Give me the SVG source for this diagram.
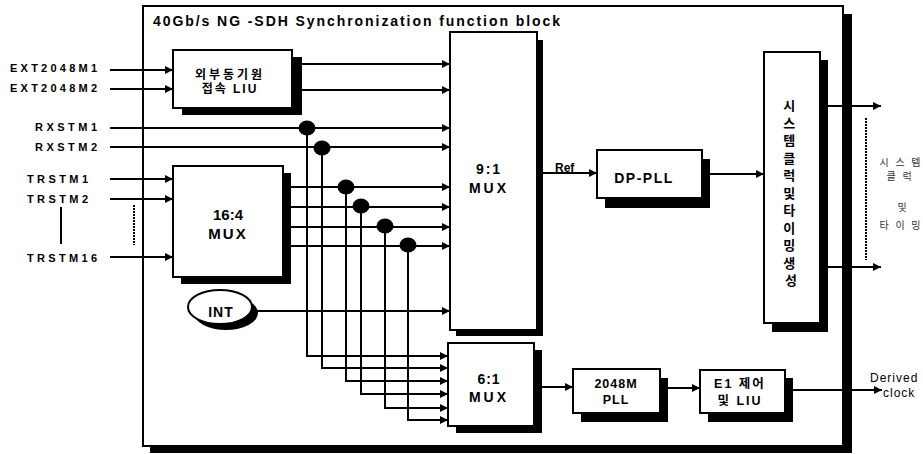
<svg xmlns="http://www.w3.org/2000/svg" width="923" height="454" viewBox="0 0 923 454">
<style>
.box{fill:#fff;stroke:#000;stroke-width:2}
.sh{fill:#000}
.ln{fill:none;stroke:#000;stroke-width:2}
.t{font-family:"Liberation Sans","Noto Sans CJK KR",sans-serif;font-weight:bold;fill:#000}
.lab{font-family:"Liberation Sans","Noto Sans CJK KR",sans-serif;font-weight:bold;font-size:11px;fill:#000}
.k{font-family:"Liberation Sans","Noto Sans CJK KR",sans-serif;font-size:10px;fill:#333}
.n{font-family:"Liberation Sans",sans-serif;font-size:12px;fill:#000;letter-spacing:1px}
</style>
<defs>
<marker id="ah" viewBox="0 0 10 10" refX="10" refY="5" markerWidth="9" markerHeight="8" markerUnits="userSpaceOnUse" orient="auto"><path d="M0,0 L10,5 L0,10 z" fill="#000"/></marker>
</defs>
<rect width="923" height="454" fill="#fff"/>

<g id="outer">
<rect class="sh" x="150" y="14" width="702" height="439"/>
<rect class="box" x="143" y="6" width="700" height="440"/>
<text class="t" x="153" y="26" font-size="14" textLength="407" lengthAdjust="spacing">40Gb/s NG -SDH Synchronization function block</text>
</g>

<g id="inputs">
<text class="lab" x="10" y="72" textLength="87" lengthAdjust="spacing">EXT2048M1</text>
<text class="lab" x="10" y="92" textLength="87" lengthAdjust="spacing">EXT2048M2</text>
<text class="lab" x="35" y="131" textLength="62" lengthAdjust="spacing">RXSTM1</text>
<text class="lab" x="35" y="151" textLength="62" lengthAdjust="spacing">RXSTM2</text>
<text class="lab" x="27" y="183" textLength="61" lengthAdjust="spacing">TRSTM1</text>
<text class="lab" x="27" y="203" textLength="61" lengthAdjust="spacing">TRSTM2</text>
<text class="lab" x="27" y="262" textLength="70" lengthAdjust="spacing">TRSTM16</text>
<line class="ln" x1="61" y1="207" x2="61" y2="244" stroke-width="1.5"/>
<line class="ln" x1="134" y1="205" x2="134" y2="245" stroke-dasharray="2 1"/>
</g>

<g id="connectors">
<path class="ln" marker-end="url(#ah)" d="M110,70 H173"/>
<path class="ln" marker-end="url(#ah)" d="M110,89 H173"/>
<path class="ln" marker-end="url(#ah)" d="M110,128 H450"/>
<path class="ln" marker-end="url(#ah)" d="M110,147 H450"/>
<path class="ln" marker-end="url(#ah)" d="M110,179 H173"/>
<path class="ln" marker-end="url(#ah)" d="M110,199 H173"/>
<path class="ln" marker-end="url(#ah)" d="M110,257 H173"/>
<path class="ln" marker-end="url(#ah)" d="M295,64 H450"/>
<path class="ln" marker-end="url(#ah)" d="M295,90 H450"/>
<path class="ln" marker-end="url(#ah)" d="M285,187 H450"/>
<path class="ln" marker-end="url(#ah)" d="M285,207 H450"/>
<path class="ln" marker-end="url(#ah)" d="M285,227 H450"/>
<path class="ln" marker-end="url(#ah)" d="M285,246 H450"/>
<path class="ln" marker-end="url(#ah)" d="M255,311 H450"/>
<path class="ln" marker-end="url(#ah)" d="M307,128 V356 H448"/>
<path class="ln" marker-end="url(#ah)" d="M322,148 V368 H448"/>
<path class="ln" marker-end="url(#ah)" d="M346,187 V381 H448"/>
<path class="ln" marker-end="url(#ah)" d="M361,206 V394 H448"/>
<path class="ln" marker-end="url(#ah)" d="M385,226 V408 H448"/>
<path class="ln" marker-end="url(#ah)" d="M408,245 V420 H448"/>
<ellipse cx="307" cy="128" rx="8.5" ry="7.5" fill="#000"/>
<ellipse cx="322" cy="148" rx="8.5" ry="7.5" fill="#000"/>
<ellipse cx="346" cy="187" rx="8.5" ry="7.5" fill="#000"/>
<ellipse cx="361" cy="206" rx="8.5" ry="7.5" fill="#000"/>
<ellipse cx="385" cy="226" rx="8.5" ry="7.5" fill="#000"/>
<ellipse cx="408" cy="245" rx="8.5" ry="7.5" fill="#000"/>
<path class="ln" marker-end="url(#ah)" d="M543,173 H597"/>
<text class="t" x="555" y="172" font-size="12">Ref</text>
<path class="ln" marker-end="url(#ah)" d="M710,174 H764"/>
<path class="ln" marker-end="url(#ah)" d="M826,106 H881"/>
<path class="ln" marker-end="url(#ah)" d="M826,267 H881"/>
<path class="ln" marker-end="url(#ah)" d="M540,387 H573"/>
<path class="ln" marker-end="url(#ah)" d="M666,388 H700"/>
<path class="ln" marker-end="url(#ah)" d="M791,390 H882"/>
<line class="ln" x1="866" y1="118" x2="866" y2="260" stroke-dasharray="2 1"/>
</g>

<g id="liu">
<rect class="sh" x="182" y="57" width="120" height="58"/>
<rect class="box" x="173" y="50" width="119" height="58"/>
<text class="t" x="230" y="79" font-size="12" text-anchor="middle" letter-spacing="3">외부동기원</text>
<text class="t" x="230" y="93" font-size="12" text-anchor="middle" letter-spacing="2">접속 LIU</text>
</g>

<g id="mux16">
<rect class="sh" x="181" y="173" width="110" height="111"/>
<rect class="box" x="173" y="166" width="110" height="111"/>
<text class="t" x="228" y="220" font-size="15" text-anchor="middle">16:4</text>
<text class="t" x="228" y="239" font-size="15" text-anchor="middle" letter-spacing="2">MUX</text>
</g>

<g id="int">
<ellipse cx="226" cy="313" rx="32" ry="17" fill="#000"/>
<ellipse cx="220" cy="307" rx="32" ry="17" class="box"/>
<text class="t" x="221" y="317" font-size="14" text-anchor="middle" letter-spacing="1">INT</text>
</g>

<g id="mux9">
<rect class="sh" x="456" y="40" width="87" height="296"/>
<rect class="box" x="450" y="32" width="87" height="298"/>
<text class="t" x="489" y="174" font-size="14" text-anchor="middle" letter-spacing="2">9:1</text>
<text class="t" x="489" y="193" font-size="14" text-anchor="middle" letter-spacing="3">MUX</text>
</g>

<g id="mux6">
<rect class="sh" x="456" y="350" width="86" height="83"/>
<rect class="box" x="448" y="343" width="86" height="83"/>
<text class="t" x="489" y="384" font-size="14" text-anchor="middle" letter-spacing="1">6:1</text>
<text class="t" x="489" y="402" font-size="14" text-anchor="middle" letter-spacing="3">MUX</text>
</g>

<g id="dppll">
<rect class="sh" x="605" y="159" width="105" height="49"/>
<rect class="box" x="597" y="150" width="105" height="48"/>
<text class="t" x="644" y="183" font-size="14" text-anchor="middle" letter-spacing="1.5">DP-PLL</text>
</g>

<g id="pll2048">
<rect class="sh" x="581" y="378" width="87" height="44"/>
<rect class="box" x="573" y="369" width="87" height="44"/>
<text class="t" x="616" y="388" font-size="12.5" text-anchor="middle" letter-spacing="1">2048M</text>
<text class="t" x="616" y="404" font-size="12.5" text-anchor="middle" letter-spacing="1">PLL</text>
</g>

<g id="e1">
<rect class="sh" x="708" y="378" width="85" height="44"/>
<rect class="box" x="700" y="370" width="85" height="43"/>
<text class="t" x="740" y="388" font-size="12.5" text-anchor="middle" letter-spacing="2">E1 제어</text>
<text class="t" x="740" y="405" font-size="12.5" text-anchor="middle" letter-spacing="2">및 LIU</text>
</g>

<g id="sysclk">
<rect class="sh" x="772" y="60" width="56" height="272"/>
<rect class="box" x="764" y="52" width="56" height="271"/>
<text class="t" font-size="13" text-anchor="middle">
<tspan x="791" y="110">시</tspan>
<tspan x="791" y="127.5">스</tspan>
<tspan x="791" y="145">템</tspan>
<tspan x="791" y="162.5">클</tspan>
<tspan x="791" y="180">럭</tspan>
<tspan x="791" y="197.5">및</tspan>
<tspan x="791" y="215">타</tspan>
<tspan x="791" y="232.5">이</tspan>
<tspan x="791" y="250">밍</tspan>
<tspan x="791" y="267.5">생</tspan>
<tspan x="791" y="285">성</tspan>
</text>
</g>

<g id="outputs">
<text class="k" x="901" y="166" text-anchor="middle" letter-spacing="2">시 스 템</text>
<text class="k" x="900" y="180" text-anchor="middle" letter-spacing="2">클 럭</text>
<text class="k" x="902" y="211" text-anchor="middle">및</text>
<text class="k" x="901" y="229" text-anchor="middle" letter-spacing="2">타 이 밍</text>
<text class="n" x="870" y="382">Derived</text>
<text class="n" x="883" y="397">clock</text>
</g>
</svg>
